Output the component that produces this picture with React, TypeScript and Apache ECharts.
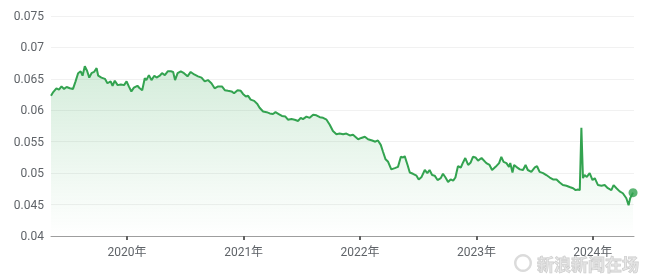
import React, { useEffect, useRef } from "react";
import * as echarts from "echarts";

const dates: string[] = [
  "2019-05-08","2019-05-15","2019-05-25","2019-06-02","2019-06-10","2019-06-18","2019-06-26","2019-07-06","2019-07-16","2019-07-24",
  "2019-08-01","2019-08-09","2019-08-15","2019-08-22","2019-08-29","2019-09-05","2019-09-12","2019-09-20","2019-09-28","2019-10-03",
  "2019-10-13","2019-10-24","2019-11-01","2019-11-11","2019-11-17","2019-11-24","2019-12-03","2019-12-13","2019-12-23","2019-12-31",
  "2020-01-07","2020-01-15","2020-01-23","2020-02-03","2020-02-10","2020-02-18","2020-02-26","2020-03-02","2020-03-10","2020-03-18",
  "2020-03-27","2020-04-03","2020-04-13","2020-04-20","2020-04-29","2020-05-08","2020-05-18","2020-05-25","2020-05-31","2020-06-08",
  "2020-06-18","2020-06-28","2020-07-09","2020-07-19","2020-07-30","2020-08-11","2020-08-22","2020-09-01","2020-09-11","2020-09-22",
  "2020-10-02","2020-10-13","2020-10-25","2020-11-03","2020-11-13","2020-11-24","2020-12-02","2020-12-13","2020-12-23","2020-12-30",
  "2021-01-08","2021-01-15","2021-01-23","2021-02-03","2021-02-13","2021-02-20","2021-03-03","2021-03-14","2021-03-24","2021-04-03",
  "2021-04-11","2021-04-21","2021-05-01","2021-05-12","2021-05-20","2021-05-31","2021-06-10","2021-06-21","2021-06-29","2021-07-06",
  "2021-07-17","2021-07-27","2021-08-07","2021-08-17","2021-08-28","2021-09-07","2021-09-18","2021-09-28","2021-10-08","2021-10-19",
  "2021-10-29","2021-11-09","2021-11-19","2021-11-30","2021-12-10","2021-12-26","2022-01-05","2022-01-16","2022-01-26","2022-02-08",
  "2022-02-18","2022-02-26","2022-03-07","2022-03-14","2022-03-22","2022-03-30","2022-04-09","2022-04-20","2022-04-30","2022-05-09",
  "2022-05-16","2022-05-21","2022-05-30","2022-06-06","2022-06-16","2022-06-27","2022-07-04","2022-07-13","2022-07-23","2022-07-31",
  "2022-08-07","2022-08-15","2022-08-23","2022-09-01","2022-09-11","2022-09-18","2022-09-26","2022-10-04","2022-10-12","2022-10-20",
  "2022-10-27","2022-11-04","2022-11-13","2022-11-20","2022-11-27","2022-12-06","2022-12-14","2022-12-21","2022-12-29","2023-01-06",
  "2023-01-17","2023-02-01","2023-02-11","2023-02-19","2023-03-02","2023-03-13","2023-03-20","2023-03-27","2023-04-05","2023-04-13",
  "2023-04-17","2023-04-24","2023-04-29","2023-05-06","2023-05-17","2023-05-27","2023-06-04","2023-06-11","2023-06-22","2023-07-03",
  "2023-07-10","2023-07-18","2023-07-29","2023-08-08","2023-08-19","2023-08-29","2023-09-09","2023-09-19","2023-09-29","2023-10-10",
  "2023-10-20","2023-10-31","2023-11-08","2023-11-15","2023-11-21","2023-11-26","2023-12-01","2023-12-06","2023-12-13","2023-12-22",
  "2023-12-31","2024-01-07","2024-01-17","2024-01-28","2024-02-07","2024-02-17","2024-02-28","2024-03-06","2024-03-15","2024-03-25",
  "2024-04-04","2024-04-15","2024-04-22","2024-04-27","2024-05-06"
];

const values: number[] = [
  0.0623,0.0629,0.0635,0.0633,0.0638,0.0634,0.0637,0.0635,0.0634,0.0646,
  0.0659,0.0662,0.0655,0.0670,0.0663,0.0652,0.0659,0.0661,0.0667,0.0655,
  0.0652,0.0650,0.0643,0.0646,0.0639,0.0647,0.0640,0.0641,0.0640,0.0646,
  0.0638,0.0630,0.0636,0.0639,0.0635,0.0632,0.0651,0.0648,0.0656,0.0648,
  0.0655,0.0652,0.0655,0.0659,0.0656,0.0662,0.0662,0.0661,0.0648,0.0659,
  0.0662,0.0659,0.0654,0.0661,0.0657,0.0654,0.0652,0.0646,0.0648,0.0643,
  0.0635,0.0638,0.0638,0.0632,0.0631,0.0630,0.0627,0.0632,0.0631,0.0626,
  0.0622,0.0623,0.0617,0.0615,0.0610,0.0604,0.0598,0.0597,0.0595,0.0594,
  0.0597,0.0594,0.0591,0.0590,0.0585,0.0586,0.0585,0.0583,0.0588,0.0586,
  0.0590,0.0588,0.0593,0.0592,0.0589,0.0588,0.0585,0.0577,0.0567,0.0562,
  0.0563,0.0562,0.0563,0.0560,0.0561,0.0554,0.0556,0.0558,0.0554,0.0552,
  0.0550,0.0552,0.0545,0.0534,0.0522,0.0518,0.0506,0.0508,0.0510,0.0526,
  0.0525,0.0527,0.0513,0.0501,0.0499,0.0496,0.0490,0.0494,0.0505,0.0500,
  0.0505,0.0497,0.0496,0.0489,0.0492,0.0499,0.0493,0.0486,0.0490,0.0488,
  0.0493,0.0511,0.0509,0.0517,0.0524,0.0513,0.0517,0.0526,0.0525,0.0520,
  0.0524,0.0516,0.0513,0.0505,0.0510,0.0516,0.0526,0.0518,0.0516,0.0510,
  0.0516,0.0501,0.0513,0.0510,0.0506,0.0505,0.0513,0.0505,0.0502,0.0509,
  0.0511,0.0502,0.0500,0.0497,0.0493,0.0490,0.0490,0.0485,0.0481,0.0480,
  0.0478,0.0476,0.0473,0.0474,0.0473,0.0572,0.0492,0.0497,0.0494,0.0500,
  0.0489,0.0492,0.0481,0.0480,0.0481,0.0476,0.0473,0.0481,0.0476,0.0471,
  0.0468,0.0460,0.0449,0.0460,0.0469
];

const yearTicks: number[] = [2020, 2021, 2022, 2023, 2024];
const yMin = 0.04;
const yMax = 0.075;
const yStep = 0.005;
const axisStart = "2019-05-08";
const axisEnd = "2024-05-09";
const watermark = "新浪新闻在场";

const GREEN = "#33a350";

export default function App() {
  const ref = useRef<HTMLDivElement>(null);
  useEffect(() => {
    if (!ref.current) return;
    const chart = echarts.init(ref.current, undefined, { renderer: "svg" });
    const points = dates.map((d, i) => [Date.parse(d), values[i]]);
    const last = points[points.length - 1];
    const tickValues = yearTicks.map((y) => Date.UTC(y, 0, 1));
    chart.setOption({
      animation: false,
      grid: { left: 51, right: 16, top: 16, bottom: 38 },
      xAxis: {
        type: "value",
        min: Date.parse(axisStart),
        max: Date.parse(axisEnd),
        splitLine: { show: false },
        axisLine: { show: true, lineStyle: { color: "#9e9e9e", width: 1 } },
        axisTick: {
          show: true,
          customValues: tickValues,
          length: 4,
          lineStyle: { color: "#616161", width: 2 },
        },
        axisLabel: {
          customValues: tickValues,
          formatter: (v: number) => new Date(v).getUTCFullYear() + "年",
          color: "#5f6368",
          fontSize: 12,
          fontFamily: "Roboto, 'Noto Sans CJK SC', sans-serif",
          margin: 10,
        },
      },
      yAxis: {
        type: "value",
        min: yMin,
        max: yMax,
        interval: yStep,
        axisLine: { show: false },
        axisTick: { show: false },
        splitLine: { lineStyle: { color: "#f1f1f1", width: 1 } },
        axisLabel: {
          color: "#5f6368",
          fontSize: 12,
          fontFamily: "Roboto, sans-serif",
          margin: 7,
          formatter: (v: number) => String(parseFloat(v.toFixed(3))),
        },
      },
      series: [
        {
          type: "line",
          data: points,
          symbol: "none",
          lineStyle: { color: GREEN, width: 2 },
          areaStyle: {
            color: new echarts.graphic.LinearGradient(0, 0, 0, 1, [
              { offset: 0, color: "rgba(52,168,83,0.3)" },
              { offset: 1, color: "rgba(52,168,83,0.0)" },
            ]),
          },
          z: 2,
        },
        {
          type: "scatter",
          data: [last],
          symbol: "circle",
          symbolSize: 9,
          clip: false,
          itemStyle: { color: GREEN },
          z: 3,
        },
      ],
      graphic: [
        {
          type: "ring",
          shape: { cx: 523, cy: 263, r: 9, r0: 6.5 },
          style: { fill: "rgba(190,190,190,0.55)" },
          z: 10,
        },
        {
          type: "text",
          x: 537,
          y: 263,
          style: {
            text: watermark,
            fill: "rgba(215,215,215,0.6)",
            stroke: "rgba(170,170,170,0.6)",
            lineWidth: 0.8,
            font: "bold 17px 'Noto Sans CJK SC', sans-serif",
            textVerticalAlign: "middle",
          },
          z: 10,
        },
      ],
    });
    return () => chart.dispose();
  }, []);
  return (
    <div
      ref={ref}
      style={{ position: "fixed", left: 0, top: 0, width: 650, height: 274 }}
    />
  );
}
